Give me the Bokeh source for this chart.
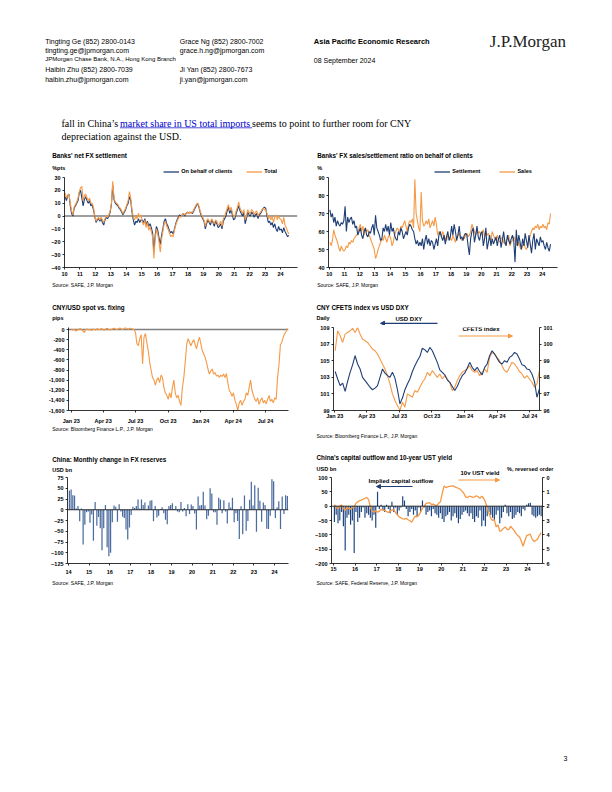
import pandas as pd
from bokeh.plotting import figure
from bokeh.models import (Range1d, LinearAxis, FixedTicker, Span, Label, Legend, LegendItem,
                          Arrow, NormalHead, NumeralTickFormatter)
from bokeh.layouts import column, row
from bokeh.embed import file_html
from bokeh.resources import INLINE

# ---------------------------------------------------------------- data
# Chart 1: Banks' net FX settlement (%pts), monthly Jan 2010 - Jul 2024
net_fx_clients = [
    15, 12, 16, 17, 8, 2, 0, 6, 8, 10, 12, 18,
    20, 14, 8, 13, 15, 12, 10, 12, 8, 9, 5, 0,
    -5, -3, -2, -4, -2, -5, -7, -3, -1, -2, 0, 3,
    9, 24, 13, 10, 9, 8, 6, 5, 3, 1, 3, 5,
    8, 10, 15, 12, 3, -3, -7, -4, -5, -2, -5, -3,
    -3, -5, -2, -7, -4, -8, -6, -9, -13, -28, -15, -8,
    -11, -17, -22, -15, -10, -4, -2, -6, -8, -11, -13, -12,
    -14, -10, -6, -3, -1, 1, 0, 1, 2, 0, 2, 3,
    2, 3, 3, 2, 4, 6, 8, 10, 7, 3, 0, -2,
    -4, -10, -6, -3, -5, -7, -3, -5, -8, -4, -6, -9,
    -8, -6, -10, -4, -2, 0, 4, 7, 2, 5, 1, -3,
    -2, 2, 5, 8, 4, 2, 0, 3, -6, -2, 3, 1,
    0, 3, 2, -1, 1, 2, -2, 1, 2, 4, 6, 7,
    6, 0, -5, -4, -7, -5, -9, -6, -10, -12, -8, -11,
    -10, -13, -9, -12, -14, -16, -15]
net_fx_total = [
    18, 14, 16, 17, 10, 4, 1, 7, 9, 11, 14, 19,
    22, 23, 12, 16, 17, 14, 12, 14, 10, 10, 7, 1,
    -4, -2, -1, -3, -1, -3, -5, -2, 0, -1, 1, 4,
    10, 27, 14, 11, 10, 9, 7, 6, 4, 2, 4, 6,
    9, 12, 19, 14, 5, -1, -3, 0, -2, 2, -1, 1,
    -5, -7, -3, -9, -5, -11, -8, -12, -16, -33, -18, -10,
    -14, -20, -28, -18, -12, -6, -4, -8, -10, -13, -16, -15,
    -16, -11, -7, -4, -2, 0, -1, 1, 2, 1, 2, 3,
    2, 3, 2, 3, 5, 7, 9, 10, 8, 4, 1, -1,
    -3, -8, -4, -2, -4, -5, -2, -4, -6, -3, -4, -7,
    -6, -4, -8, -2, 0, 3, 6, 9, 4, 7, 3, -1,
    0, 4, 7, 11, 6, 4, 2, 5, -3, 0, 5, 3,
    2, 5, 4, 1, 3, 4, 0, 2, 3, 5, 6, 5,
    5, 2, -2, 0, -3, 0, -5, -1, 1, -3, 0, -2,
    -3, -6, -1, -7, -9, -12, -14]

# Chart 2: FX sales/settlement ratio on behalf of clients (%), monthly Jan 2010 - Jul 2024
settlement_ratio = [
    72, 68, 70, 65, 68, 63, 66, 64, 63, 65, 64, 66,
    74, 60, 68, 65, 67, 68, 64, 66, 62, 63, 58, 60,
    62, 58, 56, 60, 62, 58, 57, 60, 59, 62, 64, 58,
    69, 62, 60, 58, 55, 56, 62, 60, 64, 60, 63, 58,
    65, 60, 62, 58, 56, 55, 60, 58, 62, 60, 56, 58,
    60, 58, 62, 64, 63, 61, 60, 56, 53, 55, 52, 54,
    52, 56, 50, 55, 58, 53, 56, 52, 55, 54, 50, 53,
    56, 52, 58, 60, 57, 55, 58, 53, 57, 60, 55, 57,
    63, 58, 64, 60, 55, 58, 63, 56, 57, 55, 58, 59,
    58, 52, 47, 56, 60, 62, 54, 58, 63, 57, 55, 59,
    60, 52, 56, 62, 50, 54, 58, 52, 56, 53, 55, 57,
    52, 56, 58, 51, 55, 60, 54, 52, 58, 55, 53, 56,
    58, 55, 43, 61, 52, 58, 54, 50, 56, 52, 59, 55,
    51, 58, 53, 48, 55, 59, 50, 56, 54, 52, 57, 54,
    55, 52, 50, 54, 51, 49, 53]
sales_ratio = [
    54, 52, 55, 61, 58, 56, 54, 51, 49, 52, 50, 49,
    50, 52, 51, 54, 53, 55, 54, 56, 57, 58, 59, 62,
    64, 60, 63, 58, 62, 60, 61, 58, 56, 54, 52, 50,
    45, 47, 50, 52, 54, 56, 55, 58, 56, 54, 57, 58,
    56, 52, 54, 58, 60, 62, 61, 60, 63, 62, 64, 66,
    63, 60, 64, 66, 65, 67, 62, 89, 70, 66, 62, 60,
    82, 66, 63, 64, 66, 64, 67, 62, 64, 66, 63, 68,
    64, 58, 60, 59, 57, 60, 58, 56, 55, 58, 57, 56,
    55, 58, 56, 54, 57, 58, 59, 56, 55, 57, 56, 58,
    59, 57, 58, 60, 64, 62, 60, 58, 61, 59, 60, 58,
    59, 61, 57, 60, 58, 59, 56, 55, 60, 58, 56, 55,
    58, 55, 54, 56, 57, 54, 53, 55, 56, 58, 52, 54,
    55, 57, 56, 53, 52, 54, 51, 50, 52, 54, 51, 50,
    52, 55, 58, 60, 62, 61, 63, 62, 64, 61, 63, 62,
    64, 62, 63, 61, 65, 64, 70]

# Chart 3: CNY/USD spot vs. fixing (pips), every 4 days from 2 Jan 2023
spot_vs_fixing = [
    10, -15, 5, -30, -10, 0, 20, -5, -25, -60, 0, 10, -10, 5, -20, 10, 0, -10, 15, 5,
    -5, 20, 0, -15, 10, 25, 5, -10, 0, 15, 30, 10, -5, 20, 35, 10, 0, 25, 40, 15,
    5, 30, 20, 10, 0,
    -60, -280, -320, -180, -100, -680, -150, -80, -260, -420, -650, -800, -950, -1000, -1100,
    -1000, -950, -1050, -900, -950, -1150, -1250, -1300, -1380, -1250, -1350, -1150, -1000,
    -1250, -1350, -1300, -1420, -1500, -1150, -950, -650, -300, -180, -250, -320, -250, -200,
    -300, -380, -250, -150, -280, -420, -480, -550, -650, -780, -880, -820, -780, -880, -850,
    -920, -900, -950, -900, -930, -880, -950, -870, -1050, -1200, -1250, -1320, -1250, -1400,
    -1480, -1600, -1450, -1400, -1500, -1420, -1380, -1250, -1300, -1150, -1000, -1200, -1300,
    -1380, -1420, -1350, -1480, -1400, -1350, -1450, -1400, -1470, -1380, -1300, -1420, -1380,
    -1450, -1350, -1380, -950, -700, -300, -250, -150, -80, -40, 20]

# Chart 4: USD DXY (left) and CNY CFETS index (right), weekly from 2 Jan 2023
usd_dxy = [
    103.7, 102.8, 102.0, 102.3, 101.3, 102.5, 103.6, 104.5, 105.6, 104.6,
    104.0, 103.0, 102.6, 102.2, 101.8, 101.5, 101.7, 102.0, 103.0, 104.0,
    103.5, 103.2, 103.0, 103.6, 102.9, 101.5, 99.8, 100.5, 101.5, 102.2,
    102.8, 103.7, 104.4, 105.0, 105.5, 106.5, 106.3, 106.0, 106.6, 106.2,
    105.5, 104.8, 103.9, 103.6, 103.3, 102.7, 102.4, 101.9, 101.4, 101.9,
    102.6, 103.2, 103.5, 104.1, 104.8, 104.2, 103.8, 104.2, 103.7, 103.3,
    104.2, 104.6, 105.6, 106.2, 105.8, 105.3, 104.8, 104.6, 105.0, 104.8,
    105.4, 105.6, 106.0, 105.8, 105.2, 104.5, 104.4, 104.0, 103.9, 103.4,
    102.5, 100.6, 101.6]
cfets_index = [
    99.6, 100.8, 100.5, 100.1, 100.6, 100.7, 100.8, 100.95, 100.7, 101.0,
    100.6, 100.3, 100.2, 100.1, 99.9, 99.7, 99.6, 99.4, 99.1, 98.8,
    98.5, 98.1, 97.6, 97.0, 96.6, 96.3, 96.0, 96.5, 96.2, 97.0,
    96.9, 96.8, 97.2, 97.1, 97.4, 97.7, 97.9, 98.3, 98.1, 98.4,
    98.2, 98.0, 98.2, 97.9, 98.1, 97.9, 97.7, 97.2, 97.4, 97.8,
    98.1, 98.3, 98.4, 98.5, 98.7, 98.4, 98.3, 98.4, 98.1, 98.3,
    98.5, 98.3, 99.2, 99.5, 99.4, 99.2, 99.0, 98.7, 98.4, 98.3,
    98.6, 98.9, 98.8, 98.6, 98.35, 98.2, 97.95, 98.1, 97.9, 97.7,
    97.4, 97.6, 98.4]

# Chart 5: China monthly change in FX reserves (USD bn), Jan 2014 - Aug 2024
fx_reserve_change = [
    45, 47, 34, 33, 3, 9, -27, 3, -81, -35, -6, -4,
    -30, -11, -72, 18, -37, -17, -43, -94, -43, 11, -87, -108,
    -100, -29, 10, 7, -28, 13, -4, -16, -19, -46, -69, -41,
    -12, 7, 4, 9, 24, 3, 24, 11, 17, 1, 10, 21,
    22, -27, 9, -18, -14, 2, 6, -8, -23, -34, 9, 11,
    15, 2, 9, -4, -6, 18, -4, 4, -15, 13, -10, 12,
    9, -9, -46, 31, 10, 11, 42, 10, -22, -14, 50, 38,
    -6, -6, -35, 28, 24, -8, 22, -4, -32, 17, 5, 28,
    -29, -8, -26, -68, 8, -57, 33, -49, -26, 23, 65, 10,
    57, -51, 51, 21, -28, 17, 11, -44, -45, -14, 71, 66,
    -19, 6, 20, -45, 31, -10, 34, 32]

# Chart 6: implied capital outflow (USD bn) and 10y UST yield (%), Jan 2015 - Aug 2024
capital_outflow = [
    -55, -30, -60, -50, -20, -70, -155, -40, -30, -65, -50, -163,
    -20, -55, -40, -20, -5, -40, -25, -30, -40, -50, -30, -75,
    50, -10, 5, -15, -20, 5, -10, -25, 15, -20, -5, -30,
    -15, -5, 35, 20, -10, -35, -20, -10, -30, -15, -35, -5,
    -20, 20, -5, -30, -20, -15, -35, -10, -25, -30, -40, -25,
    -45, -55, -35, -30, -20, -50, -35, -25, -40, -60, -45, -30,
    -20, -15, -25, -35, -25, -45, -55, -35, -40, -15, -70, -50,
    -70, -35, -20, -30, -40, -50, -30, -15, -60, -40, -20, 5,
    -25, -35, -20, -45, -40, -30, -20, -25, -35, -10, -15, 5,
    10, 12, -30, -35, -40, -35, -30, -35]
ust_10y_yield = [
    1.9, 2.05, 2.2, 2.0, 1.92, 2.15, 2.3, 2.1, 2.15, 2.2, 2.1, 2.05,
    1.8, 1.7, 1.62, 1.58, 1.5, 1.45, 1.39, 1.55, 2.05, 2.35, 2.42, 2.32,
    2.42, 2.35, 2.22, 2.28, 2.3, 2.38, 2.43, 2.35, 2.28, 2.22, 2.45, 2.6,
    2.75, 2.82, 2.88, 2.9, 2.85, 2.95, 3.02, 3.12, 2.88, 2.7, 2.75, 2.62,
    2.4, 2.15, 2.0, 1.8, 1.78, 1.75, 1.88, 1.85, 1.92, 1.95, 1.8, 1.7,
    1.1, 0.6, 0.7, 0.65, 0.62, 0.6, 0.58, 0.65, 0.7, 0.75, 0.82, 0.95,
    1.1, 1.35, 1.4, 1.3, 1.33, 1.38, 1.35, 1.27, 1.35, 1.45, 1.3, 1.45,
    1.7, 2.1, 2.5, 2.85, 3.0, 2.95, 3.45, 3.3, 3.75, 3.7, 3.55, 3.45,
    3.6, 3.65, 3.4, 3.55, 3.7, 3.9, 4.05, 4.15, 4.45, 4.8, 4.4, 4.05,
    4.0, 3.95, 4.3, 4.45, 4.4, 4.3, 4.05, 3.85]

month_tick_labels = ["Jan 23", "Apr 23", "Jul 23", "Oct 23", "Jan 24", "Apr 24", "Jul 24"]
month_tick_dates = ["2023-01-01", "2023-04-01", "2023-07-01", "2023-10-01",
                    "2024-01-01", "2024-04-01", "2024-07-01"]

# ---------------------------------------------------------------- style
FONT = "Liberation Sans"
SERIF = "Liberation Serif"
NAVY = "#1F3E74"
ORANGE = "#F59A46"
BAR_LIGHT = "#4B6C9F"
BAR_DARK = "#1E4580"
GREY = "#7F7F7F"
TITLE_FS = "6.3px"
TICK_FS = "5.5px"
SRC_FS = "5px"
PAGE_W = 612

BASE = pd.Timestamp("2023-01-01")
days3 = [(d - BASE).days for d in pd.date_range("2023-01-02", periods=len(spot_vs_fixing), freq="4D")]
days4 = [(d - BASE).days for d in pd.date_range("2023-01-02", periods=len(usd_dxy), freq="7D")]
month_ticks = [(pd.Timestamp(d) - BASE).days for d in month_tick_dates]


def chart(page_left, page_top, w, h, bl, br, bt, bb, xr, yr):
    p = figure(width=w, height=h, x_range=xr, y_range=yr, toolbar_location=None,
               output_backend="svg", title=None,
               min_border_left=bl, min_border_right=br, min_border_top=bt, min_border_bottom=bb)
    p.outline_line_color = None
    p.xgrid.visible = False
    p.ygrid.visible = False
    p.background_fill_color = "white"
    p.border_fill_color = "white"
    geo = (page_left + bl, page_top + h - bb)   # frame left / frame bottom in page px
    return p, geo


def style_axis(ax, standoff=2):
    ax.axis_line_color = "black"
    ax.axis_line_width = 0.8
    ax.major_tick_line_color = "black"
    ax.major_tick_line_width = 0.8
    ax.major_tick_in = 0
    ax.major_tick_out = 2
    ax.minor_tick_line_color = None
    ax.major_label_text_font = FONT
    ax.major_label_text_font_size = TICK_FS
    ax.major_label_text_font_style = "bold"
    ax.major_label_text_color = "black"
    ax.major_label_standoff = standoff


def put(p, geo, x, y, text, size, bold=False, color="black", align="left"):
    fx0, fy1 = geo
    p.add_layout(Label(x=x - fx0, y=fy1 - y, x_units="screen", y_units="screen", text=text,
                       text_font=FONT, text_font_size=size,
                       text_font_style="bold" if bold else "normal",
                       text_color=color, text_align=align, text_baseline="middle"))


def arrow(p, geo, x_head, x_tail, y, color):
    fx0, fy1 = geo
    p.add_layout(Arrow(start=NormalHead(size=4, fill_color=color, line_color=color), end=None,
                       x_start=x_head - fx0, y_start=fy1 - y, x_end=x_tail - fx0, y_end=fy1 - y,
                       start_units="screen", end_units="screen", line_color=color, line_width=1.2))


# text bands (full page width, data units == page pixels)
def band(top, h):
    f = figure(width=PAGE_W, height=h, x_range=Range1d(0, PAGE_W), y_range=Range1d(h, 0),
               toolbar_location=None, output_backend="svg", title=None,
               x_axis_type=None, y_axis_type=None, min_border=0)
    f.outline_line_color = None
    f.grid.visible = False
    f.background_fill_color = "white"
    f.border_fill_color = "white"
    return f, top, h


def tput(b, x, y, text, size, bold=False, color="black", font=FONT, align="left"):
    f, top, h = b
    f.add_layout(Label(x=x, y=y - top, text=text, text_font=font, text_font_size=size,
                       text_font_style="bold" if bold else "normal", text_color=color,
                       text_align=align, text_baseline="middle"))


def tarrow(b, x_head, x_tail, y, color):
    f, top, h = b
    f.add_layout(Arrow(start=NormalHead(size=4, fill_color=color, line_color=color), end=None,
                       x_start=x_head, y_start=y - top, x_end=x_tail, y_end=y - top,
                       line_color=color, line_width=1.2))


def tlegend(b, entries, x, y, spacing):
    f, top, h = b
    items = []
    for label, color in entries:
        # legend-only renderer: a single undefined point, nothing is drawn in the band
        r = f.line(x=[float("nan")], y=[float("nan")], line_color=color, line_width=1.3)
        items.append(LegendItem(label=label, renderers=[r]))
    leg = Legend(items=items, location=(x, h - (y + 3.5 - top)), orientation="horizontal",
                 glyph_width=16, glyph_height=7, label_height=7, label_width=5,
                 label_standoff=2, spacing=spacing, padding=0, margin=0,
                 border_line_color=None, background_fill_alpha=0,
                 label_text_font=FONT, label_text_font_size=TICK_FS,
                 label_text_font_style="bold", label_text_color="black")
    f.add_layout(leg)


# ---------------------------------------------------------------- header
hdr = band(0, 145)
tput(hdr, 44.7, 41, "Tingting Ge  (852) 2800-0143", "7px")
tput(hdr, 44.7, 50, "tingting.ge@jpmorgan.com", "7px")
tput(hdr, 44.7, 58.7, "JPMorgan Chase Bank, N.A., Hong Kong Branch", "6px")
tput(hdr, 44.7, 69.3, "Haibin Zhu  (852) 2800-7039", "7px")
tput(hdr, 44.7, 79, "haibin.zhu@jpmorgan.com", "7px")
tput(hdr, 179.3, 41, "Grace Ng  (852) 2800-7002", "7px")
tput(hdr, 179.3, 50, "grace.h.ng@jpmorgan.com", "7px")
tput(hdr, 179.3, 69.3, "Ji Yan  (852) 2800-7673", "7px")
tput(hdr, 179.3, 79, "ji.yan@jpmorgan.com", "7px")
tput(hdr, 313.3, 41.3, "Asia Pacific Economic Research", "7.5px", bold=True)
tput(hdr, 313.3, 60.3, "08 September 2024", "7px")
tput(hdr, 489.3, 40.5, "J.P.Morgan", "17px", font=SERIF, color="#222222")

BODY_FS = 10
bx0 = 61
bx1 = bx0 + 5.85 * BODY_FS
bx2 = bx1 + 13.2 * BODY_FS
tput(hdr, bx0, 122.5, "fall in China\u2019s", f"{BODY_FS}px", font=SERIF)
tput(hdr, bx1, 122.5, "market share in US total imports ", f"{BODY_FS}px", font=SERIF, color="#0000CC")
tput(hdr, bx2, 122.5, "seems to point to further room for CNY", f"{BODY_FS}px", font=SERIF)
tput(hdr, bx0, 135.5, "depreciation against the USD.", f"{BODY_FS}px", font=SERIF)
hdr[0].add_layout(Arrow(start=None, end=None, x_start=bx1, y_start=127.3, x_end=bx2, y_end=127.3,
                        line_color="#0000CC", line_width=0.7))

# ---------------------------------------------------------------- band 1 (row 1 titles)
b1 = band(145, 29)
tput(b1, 51.7, 155, "Banks' net FX settlement", TITLE_FS, bold=True)
tput(b1, 51.7, 167.5, "%pts", TICK_FS, bold=True)
tlegend(b1, [("On behalf of clients", NAVY), ("Total", ORANGE)], 163.3, 171, 14)
tput(b1, 316.7, 155, "Banks' FX sales/settlement ratio on behalf of clients", TITLE_FS, bold=True)
tput(b1, 316.7, 167.5, "%", TICK_FS, bold=True)
tlegend(b1, [("Settlement", NAVY), ("Sales", ORANGE)], 434.3, 171, 19)

# ---------------------------------------------------------------- chart 1
p1, g1 = chart(0, 174, 306, 105, 64, 9, 3, 12, Range1d(10, 25.1), Range1d(-40, 30))
x_m10 = [10 + (i + 0.5) / 12 for i in range(len(net_fx_clients))]
p1.add_layout(Span(location=0, dimension="width", line_color=GREY, line_width=1.4, level="underlay"))
p1.line(x_m10, net_fx_clients, line_color=NAVY, line_width=1.1)
p1.line(x_m10, net_fx_total, line_color=ORANGE, line_width=1.1)
p1.xaxis.ticker = FixedTicker(ticks=list(range(10, 25)))
p1.yaxis.ticker = FixedTicker(ticks=list(range(-40, 31, 10)))
style_axis(p1.xaxis[0], 2)
style_axis(p1.yaxis[0], 2)

# ---------------------------------------------------------------- chart 2
p2, g2 = chart(306, 174, 306, 105, 22, 55, 3, 12, Range1d(9.95, 25.0), Range1d(40, 90))
x_m10b = [10 + (i + 0.5) / 12 for i in range(len(settlement_ratio))]
p2.line(x_m10b, sales_ratio, line_color=ORANGE, line_width=1.1)
p2.line(x_m10b, settlement_ratio, line_color=NAVY, line_width=1.1)
p2.xaxis.ticker = FixedTicker(ticks=list(range(10, 25)))
p2.yaxis.ticker = FixedTicker(ticks=list(range(40, 91, 10)))
style_axis(p2.xaxis[0], 2)
style_axis(p2.yaxis[0], 2)

# ---------------------------------------------------------------- band 2
b2 = band(279, 46)
tput(b2, 51.7, 284, "Source: SAFE, J.P. Morgan", SRC_FS)
tput(b2, 316.7, 284.5, "Source: SAFE, J.P. Morgan", SRC_FS)
tput(b2, 51.7, 306.7, "CNY/USD spot vs. fixing", TITLE_FS, bold=True)
tput(b2, 51.7, 317.7, "pips", TICK_FS, bold=True)
tput(b2, 316, 306.7, "CNY CFETS index vs USD DXY", TITLE_FS, bold=True)
tput(b2, 316, 317.3, "Daily", TICK_FS, bold=True)
tput(b2, 395, 318.7, "USD DXY", "6px", bold=True)
tarrow(b2, 380, 437, 322.8, NAVY)

# ---------------------------------------------------------------- chart 3
p3, g3 = chart(0, 325, 306, 101, 68, 18, 2, 15, Range1d(-7.6, 611.8), Range1d(-1600, 40))
p3.add_layout(Span(location=0, dimension="width", line_color=GREY, line_width=1.4, level="underlay"))
p3.line(days3, spot_vs_fixing, line_color=ORANGE, line_width=1.1)
p3.xaxis.ticker = FixedTicker(ticks=month_ticks)
p3.xaxis.major_label_overrides = dict(zip(month_ticks, month_tick_labels))
p3.yaxis.ticker = FixedTicker(ticks=list(range(-1600, 1, 200)))
p3.yaxis.formatter = NumeralTickFormatter(format="0,0")
style_axis(p3.xaxis[0], 5)
style_axis(p3.yaxis[0], 2)

# ---------------------------------------------------------------- chart 4
p4, g4 = chart(306, 325, 306, 101, 27, 73, 2, 9, Range1d(-3.7, 575.2), Range1d(99, 109))
p4.extra_y_ranges = {"cfets": Range1d(96, 101)}
p4.line(days4, cfets_index, line_color=ORANGE, line_width=1.1, y_range_name="cfets")
p4.line(days4, usd_dxy, line_color=NAVY, line_width=1.1)
ax4r = LinearAxis(y_range_name="cfets")
p4.add_layout(ax4r, "right")
p4.xaxis.ticker = FixedTicker(ticks=month_ticks)
p4.xaxis.major_label_overrides = dict(zip(month_ticks, month_tick_labels))
p4.yaxis[0].ticker = FixedTicker(ticks=list(range(99, 110, 2)))
ax4r.ticker = FixedTicker(ticks=list(range(96, 102)))
style_axis(p4.xaxis[0], 0)
style_axis(p4.yaxis[0], 2)
style_axis(ax4r, 2)
put(p4, g4, 462, 335.5, "CFETS index", "6px", bold=True)
arrow(p4, g4, 512, 458, 342.5, ORANGE)

# ---------------------------------------------------------------- band 3
b3 = band(426, 49)
tput(b3, 51.7, 428.8, "Source: Bloomberg Finance L.P., J.P. Morgan", SRC_FS)
tput(b3, 316, 435.7, "Source: Bloomberg Finance L.P., J.P. Morgan", SRC_FS)
tput(b3, 51.7, 458.5, "China: Monthly change in FX reserves", TITLE_FS, bold=True)
tput(b3, 51.7, 469, "USD bn", TICK_FS, bold=True)
tput(b3, 316, 457, "China's capital outflow and 10-year UST yield", TITLE_FS, bold=True)
tput(b3, 316, 468.3, "USD bn", TICK_FS, bold=True)
tput(b3, 553, 468.3, "%, reversed order", TICK_FS, bold=True, align="right")
tput(b3, 460, 472, "10y UST yield", "6px", bold=True)

# ---------------------------------------------------------------- chart 5
p5, g5 = chart(0, 475, 306, 103, 67, 18, 2, 13, Range1d(13.95, 24.68), Range1d(-125, 75))
x_m14 = [14 + (m + 0.5) / 12 for m in range(len(fx_reserve_change))]
p5.vbar(x=x_m14, top=fx_reserve_change, bottom=0, width=0.06, fill_color=BAR_LIGHT, line_color=None)
p5.add_layout(Span(location=0, dimension="width", line_color="black", line_width=0.8))
p5.xaxis.ticker = FixedTicker(ticks=list(range(14, 25)))
p5.yaxis.ticker = FixedTicker(ticks=list(range(-125, 76, 25)))
style_axis(p5.xaxis[0], 4)
style_axis(p5.yaxis[0], 2)

# ---------------------------------------------------------------- chart 6
p6, g6 = chart(306, 475, 306, 103, 25, 70, 2, 15, Range1d(14.907, 24.69), Range1d(-200, 100))
p6.extra_y_ranges = {"ust": Range1d(6, 0)}
x_m15 = [15 + (m + 0.5) / 12 for m in range(len(capital_outflow))]
p6.vbar(x=x_m15, top=capital_outflow, bottom=0, width=0.055, fill_color=BAR_DARK, line_color=None)
p6.add_layout(Span(location=0, dimension="width", line_color="black", line_width=0.8))
p6.line(x_m15, ust_10y_yield, line_color=ORANGE, line_width=1.3, y_range_name="ust")
ax6r = LinearAxis(y_range_name="ust")
p6.add_layout(ax6r, "right")
p6.xaxis.ticker = FixedTicker(ticks=list(range(15, 25)))
p6.yaxis[0].ticker = FixedTicker(ticks=list(range(-200, 101, 50)))
ax6r.ticker = FixedTicker(ticks=list(range(0, 7)))
style_axis(p6.xaxis[0], 1)
style_axis(p6.yaxis[0], 2)
style_axis(ax6r, 2)
put(p6, g6, 368, 480.5, "Implied capital outflow", "6px", bold=True)
arrow(p6, g6, 376, 412, 486, NAVY)
arrow(p6, g6, 499, 458, 479.5, ORANGE)

# ---------------------------------------------------------------- band 4 (sources + page number)
b4 = band(578, 212)
tput(b4, 51.7, 582, "Source: SAFE, J.P. Morgan", SRC_FS)
tput(b4, 316, 582, "Source: SAFE, Federal Reserve, J.P. Morgan", SRC_FS)
tput(b4, 565, 758, "3", "7px", align="center")

layout = column(hdr[0], b1[0], row(p1, p2), b2[0], row(p3, p4), b3[0], row(p5, p6), b4[0])
open("out.html", "w").write(file_html(layout, INLINE))
